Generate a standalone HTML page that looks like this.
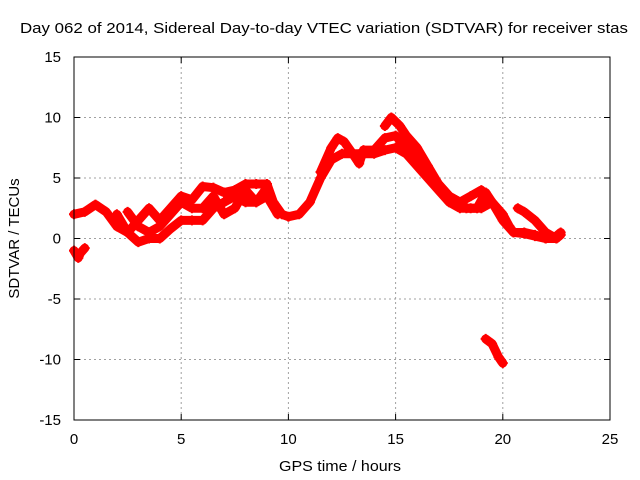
<!DOCTYPE html>
<html><head><meta charset="utf-8"><style>
body{margin:0;background:#fff}
svg{display:block;font-family:"Liberation Sans",sans-serif;font-size:15px}
</style></head><body>
<svg width="640" height="480">
<rect width="640" height="480" fill="#fff"/>
<text x="20" y="33" textLength="608" lengthAdjust="spacingAndGlyphs">Day 062 of 2014, Sidereal Day-to-day VTEC variation (SDTVAR) for receiver stas</text>
<g id="grid"></g>
<g id="data"></g>
<rect x="74" y="57" width="536" height="363" fill="none" stroke="#000"/>
<g id="ticks"></g>
<text x="340" y="471" text-anchor="middle" textLength="122" lengthAdjust="spacingAndGlyphs">GPS time / hours</text>
<text transform="translate(19,238.5) rotate(-90)" text-anchor="middle">SDTVAR / TECUs</text>
</svg>
<script>
const xTicks=[0,5,10,15,20,25];
const yTicks=[-15,-10,-5,0,5,10,15];
const trackA=[[0,2],[0.5,2.2],[1,2.8],[1.5,2.2],[2,1],[2.5,0.5],[3,1.5],[3.5,2.5],[4,1.5],[4.5,2.5],[5,3.5],[5.5,3.2],[6,4.3],[6.5,4.2],[7,3.8],[7.5,4],[8,4.5],[8.5,4.5],[9,4.5],[9.3,3],[9.7,2],[10,1.8],[10.5,2],[11,3],[11.5,5],[12,6.5],[12.5,7],[13,7],[13.5,7],[14,7],[14.5,7.3],[15,7.5],[15.5,7],[16,6],[16.5,5],[17,4],[17.5,3],[18,2.5],[18.5,2.5],[19,2.5],[19.5,3]];
const trackB=[[2,2],[2.5,0.5],[3,-0.3],[3.5,0],[4,0],[4.5,0.8],[5,1.5],[5.5,1.5],[6,1.5],[6.5,2.5],[7,3],[7.5,3.5],[8,3],[8.5,3],[9,3.5],[9.5,2]];
const trackC=[[2.5,2.2],[3,1],[3.5,0.5],[4,1],[4.5,2],[5,3],[5.5,2.5],[6,2.5],[6.5,3.5],[7,2],[7.5,2.5],[8,4],[8.5,3],[9,4.2]];
const trackD=[[14.5,9.3],[14.8,10],[15.2,9.3],[15.5,8.5],[16,7.5],[16.5,6],[17,4.5],[17.5,3.5],[18,3],[18.5,3.5],[19,4],[19.5,3],[20,1.5],[20.5,0.5],[21,0.5],[21.5,0.3],[22,0],[22.5,0.2],[22.7,0.5]];
const trackE=[[11.5,5.5],[12,7.5],[12.3,8.3],[12.6,8],[13,7],[13.3,6.2],[13.5,7.3],[14,7.3],[14.5,8.3],[15,8.5],[15.5,7.5],[16,6.5],[16.5,5.5],[17,4.5],[17.5,3.5],[18,3],[18.3,2.5],[18.8,2.5],[19.2,3.8],[19.5,3],[20,2],[20.3,1],[20.5,0.5],[21,0.4],[21.5,0.2],[22,0],[22.5,0]];
const trackG=[[20.7,2.5],[21,2.2],[21.5,1.5],[22,0.5],[22.5,0],[22.7,0.3]];
const trackH=[[0,-1],[0.2,-1.6],[0.3,-1.2],[0.5,-0.8]];
const trackI=[[19.2,-8.3],[19.5,-8.7],[19.8,-9.8],[20,-10.3]];
const tracks=[trackA,trackB,trackC,trackD,trackE,trackG,trackH,trackI];
const X=t=>74+t*536/25, Y=v=>238.5-v*363/30;
const NS="http://www.w3.org/2000/svg";
const grid=document.getElementById('grid'),ticks=document.getElementById('ticks'),data=document.getElementById('data');
function mk(tag,attrs,parent){const e=document.createElementNS(NS,tag);for(const k in attrs)e.setAttribute(k,attrs[k]);parent.appendChild(e);return e;}
xTicks.forEach(t=>{
 if(t>0&&t<25){const g=mk('line',{x1:X(t),x2:X(t),y1:57,y2:420,stroke:'#a0a0a0','stroke-dasharray':'2,3'},grid);
 
 }
 const tk=mk('path',{d:`M${X(t)},420v-6M${X(t)},57v6`,stroke:'#000'},ticks);
 
 
 const l=mk('text',{x:X(t),y:444,'text-anchor':'middle'},ticks);l.textContent=t;
 
 
});
yTicks.forEach(v=>{
 if(v>-15&&v<15){const g=mk('line',{x1:74,x2:610,y1:Y(v),y2:Y(v),stroke:'#a0a0a0','stroke-dasharray':'2,3'},grid);
 
 }
 const tk=mk('path',{d:`M74,${Y(v)}h6M610,${Y(v)}h-6`,stroke:'#000'},ticks);
 
 
 const l=mk('text',{x:61,y:Y(v)+5,'text-anchor':'end'},ticks);l.textContent=v;
 
 
});
tracks.forEach(tr=>{
 const p=mk('polyline',{points:tr.map(d=>X(d[0])+','+Y(d[1])).join(' '),fill:'none',stroke:'#ff0000','stroke-width':9,'stroke-linejoin':'round','stroke-linecap':'round'},data);
 
 
 tr.forEach(d=>{
  const m=mk('path',{d:`M${X(d[0])-5},${Y(d[1])}h10M${X(d[0])},${Y(d[1])-5}v10`,stroke:'#ff0000','stroke-width':2},data);
  
  
 });
});
</script>
</body></html>
